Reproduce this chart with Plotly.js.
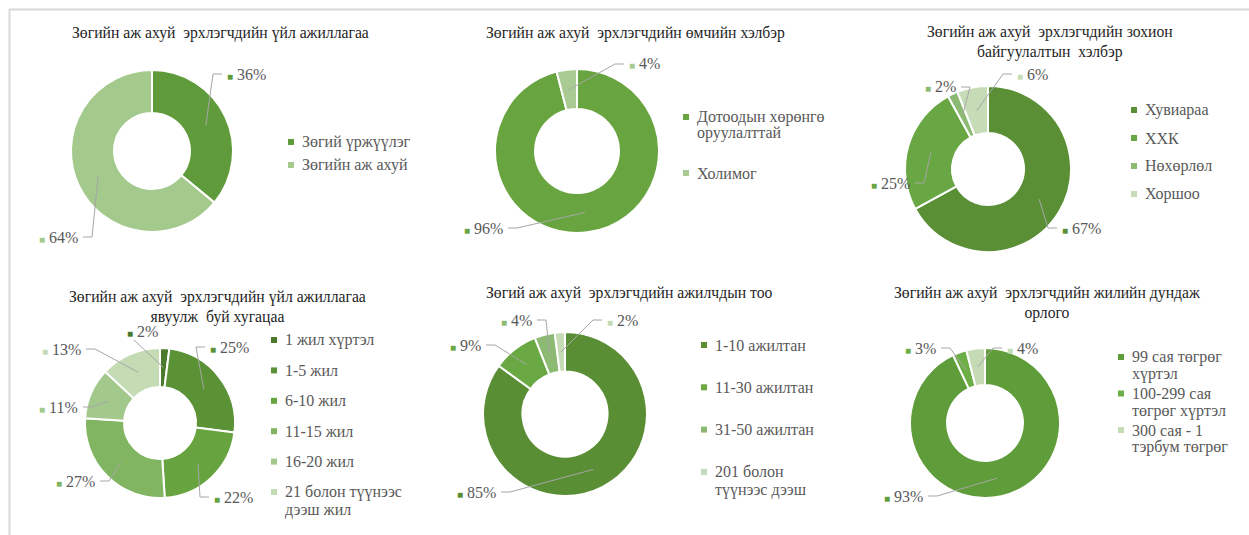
<!DOCTYPE html>
<html><head><meta charset="utf-8">
<script src="https://cdn.plot.ly/plotly-3.0.1.min.js"></script>
<style>html,body{margin:0;padding:0;background:#fff;}#chart{width:1249px;height:535px;}</style>
</head><body><div id="chart"></div>
<script>
// ---------------- data ----------------
const titles = [
  'Зөгийн аж ахуй  эрхлэгчдийн үйл ажиллагаа',
  'Зөгийн аж ахуй  эрхлэгчдийн өмчийн хэлбэр',
  'Зөгийн аж ахуй  эрхлэгчдийн зохион<br>байгуулалтын  хэлбэр',
  'Зөгийн аж ахуй  эрхлэгчдийн үйл ажиллагаа<br>явуулж  буй хугацаа',
  'Зөгий аж ахуй  эрхлэгчдийн ажилчдын тоо',
  'Зөгийн аж ахуй  эрхлэгчдийн жилийн дундаж<br>орлого'
];
const activityLabels = ['Зөгий үржүүлэг', 'Зөгийн аж ахуй'];
const activityValues = [36, 64];
const ownershipLabels = ['Дотоодын хөрөнгө оруулалттай', 'Холимог'];
const ownershipValues = [96, 4];
const orgFormLabels = ['Хувиараа', 'ХХК', 'Нөхөрлөл', 'Хоршоо'];
const orgFormValues = [67, 25, 2, 6];
const durationLabels = ['1 жил хүртэл', '1-5 жил', '6-10 жил', '11-15 жил', '16-20 жил', '21 болон түүнээс дээш жил'];
const durationValues = [2, 25, 22, 27, 11, 13];
const staffLabels = ['1-10 ажилтан', '11-30 ажилтан', '31-50 ажилтан', '201 болон түүнээс дээш'];
const staffValues = [85, 9, 4, 2];
const incomeLabels = ['99 сая төгрөг хүртэл', '100-299 сая төгрөг хүртэл', '300 сая - 1 тэрбум төгрөг'];
const incomeValues = [93, 3, 4];

// ---------------- styling / layout ----------------
const W = 1249, H = 535;
const FONT = 'Liberation Serif, serif';
const GRAY = '#595959';
const TITLE_SIZE = 15.7, LEGEND_SIZE = 16, LABEL_SIZE = 16;

const panels = [
  { labels: activityLabels, values: activityValues, colors: ['#5f9b3b', '#a3c98c'],
    cx: 152, cy: 151, r: 81, rin: 38, title: { x: 220, y: 33 },
    legend: { x: 300, y: 142, gap: 23, wrap: 40, line: 17 },
    lab: [{ x: 225, y: 74, a: 'left' }, { x: 80, y: 237, a: 'right' }] },
  { labels: ownershipLabels, values: ownershipValues, colors: ['#68a43f', '#a9cb93'],
    cx: 577, cy: 151, r: 82, rin: 42, title: { x: 635, y: 33 },
    legend: { x: 695, y: 117, gap: 56, wrap: 16, line: 16 },
    lab: [{ x: 505, y: 228, a: 'right' }, { x: 627, y: 64, a: 'left' }] },
  { labels: orgFormLabels, values: orgFormValues, colors: ['#5a8f36', '#68a744', '#8dba73', '#c5dcb6'],
    cx: 988, cy: 169, r: 83, rin: 36, title: { x: 1050, y: 42.5 },
    legend: { x: 1143, y: 110, gap: 28, wrap: 40, line: 17 },
    lab: [{ x: 1060, y: 228, a: 'left' }, { x: 912, y: 183, a: 'right' },
          { x: 958, y: 87, a: 'right' }, { x: 1015, y: 74, a: 'left' }] },
  { labels: durationLabels, values: durationValues,
    colors: ['#4c7a2c', '#5a9235', '#67a33f', '#82b562', '#a2c98b', '#c4dbb4'],
    cx: 160, cy: 423, r: 75, rin: 36, title: { x: 217, y: 307 },
    legend: { x: 283, y: 340, gap: 30.4, wrap: 16, line: 18 },
    lab: [{ x: 142, y: 331, a: 'center' }, { x: 208, y: 347, a: 'left' },
          { x: 212, y: 497, a: 'left' }, { x: 97, y: 481, a: 'right' },
          { x: 80, y: 407, a: 'right' }, { x: 83, y: 349, a: 'right' }] },
  { labels: staffLabels, values: staffValues, colors: ['#598e35', '#69a843', '#8dba72', '#c4dbb6'],
    cx: 565, cy: 414, r: 82, rin: 42.5, title: { x: 629, y: 293 },
    legend: { x: 713, y: 345, gap: 42.3, wrap: 13, line: 18 },
    lab: [{ x: 498, y: 492, a: 'right' }, { x: 483, y: 345, a: 'right' },
          { x: 534, y: 320, a: 'right' }, { x: 605, y: 320, a: 'left' }] },
  { labels: incomeLabels, values: incomeValues, colors: ['#5f9c3a', '#6eae47', '#c4dbb6'],
    cx: 985, cy: 423, r: 75, rin: 38, title: { x: 1047, y: 302.5 },
    legend: { x: 1130, y: 357, gap: 36.5, wrap: 13, line: 17 },
    lab: [{ x: 925, y: 496, a: 'right' }, { x: 938, y: 348, a: 'right' },
          { x: 1005, y: 348, a: 'left' }] }
];

const px = x => x / W;
const py = y => 1 - y / H;

function wrapText(s, max) {
  const words = s.split(' ');
  const lines = [];
  let cur = '';
  words.forEach(w => {
    const t = cur ? cur + ' ' + w : w;
    if (t.length > max && cur) { lines.push(cur); cur = w; } else { cur = t; }
  });
  if (cur) lines.push(cur);
  return lines;
}

const traces = [];
const annotations = [];
const shapes = [
  { type: 'line', xref: 'paper', yref: 'paper', x0: px(9), x1: px(W), y0: py(9.5), y1: py(9.5),
    line: { color: '#d9d9d9', width: 2 } },
  { type: 'line', xref: 'paper', yref: 'paper', x0: px(9.5), x1: px(9.5), y0: py(9), y1: py(H),
    line: { color: '#d9d9d9', width: 2 } }
];

panels.forEach((p, i) => {
  traces.push({
    type: 'pie', labels: p.labels, values: p.values, sort: false, direction: 'clockwise',
    rotation: 0, hole: p.rin / p.r, textinfo: 'none', textposition: 'none', showlegend: false,
    hoverinfo: 'label+percent',
    marker: { colors: p.colors, line: { color: '#ffffff', width: 2 } },
    domain: { x: [px(p.cx - p.r), px(p.cx + p.r)], y: [py(p.cy + p.r), py(p.cy - p.r)] }
  });

  // title
  annotations.push({
    xref: 'paper', yref: 'paper', x: px(p.title.x), y: py(p.title.y), xanchor: 'center', yanchor: 'middle',
    text: titles[i], showarrow: false, font: { family: FONT, size: TITLE_SIZE, color: '#1f1f1f' }
  });

  // data labels with leader lines
  const total = p.values.reduce((a, b) => a + b, 0);
  let cum = 0;
  p.values.forEach((v, k) => {
    const mid = (cum + v / 2) / total * 2 * Math.PI;
    cum += v;
    const rm = (p.r + p.rin) / 2;
    const tx = p.cx + rm * Math.sin(mid), ty = p.cy - rm * Math.cos(mid);
    const L = p.lab[k];
    const pct = Math.round(v / total * 100) + '%';
    annotations.push({
      xref: 'paper', yref: 'paper', x: px(L.x), y: py(L.y), xanchor: L.a, yanchor: 'middle',
      showarrow: false,
      text: '<span style="color:' + p.colors[k] + ';font-size:10px">■</span> ' + pct,
      font: { family: FONT, size: LABEL_SIZE, color: GRAY }
    });
    let path;
    if (L.a === 'left') {
      path = `M${px(tx)},${py(ty)} L${px(L.x - 12)},${py(L.y)} L${px(L.x - 3)},${py(L.y)}`;
    } else if (L.a === 'right') {
      path = `M${px(tx)},${py(ty)} L${px(L.x + 12)},${py(L.y)} L${px(L.x + 3)},${py(L.y)}`;
    } else {
      path = `M${px(tx)},${py(ty)} L${px(L.x - 8)},${py(L.y + 9)}`;
    }
    shapes.push({ type: 'path', xref: 'paper', yref: 'paper', path: path,
      line: { color: '#a6a6a6', width: 1 } });
  });

  // legend (custom, to reproduce item spacing)
  p.labels.forEach((lab, k) => {
    const y0 = p.legend.y + k * p.legend.gap;
    const sx = p.legend.x - 9;
    shapes.push({ type: 'rect', xref: 'paper', yref: 'paper',
      x0: px(sx - 3), x1: px(sx + 3), y0: py(y0 + 3), y1: py(y0 - 3),
      fillcolor: p.colors[k], line: { width: 0 } });
    wrapText(lab, p.legend.wrap).forEach((ln, j) => {
      annotations.push({
        xref: 'paper', yref: 'paper', x: px(p.legend.x), y: py(y0 + j * p.legend.line),
        xanchor: 'left', yanchor: 'middle', showarrow: false, text: ln,
        font: { family: FONT, size: LEGEND_SIZE, color: GRAY }
      });
    });
  });
});

const layout = {
  width: W, height: H, margin: { l: 0, r: 0, t: 0, b: 0, pad: 0 },
  paper_bgcolor: '#ffffff', plot_bgcolor: '#ffffff', showlegend: false,
  font: { family: FONT },
  annotations: annotations, shapes: shapes
};
Plotly.newPlot('chart', traces, layout, { displayModeBar: false, responsive: false });
</script>
</body></html>
